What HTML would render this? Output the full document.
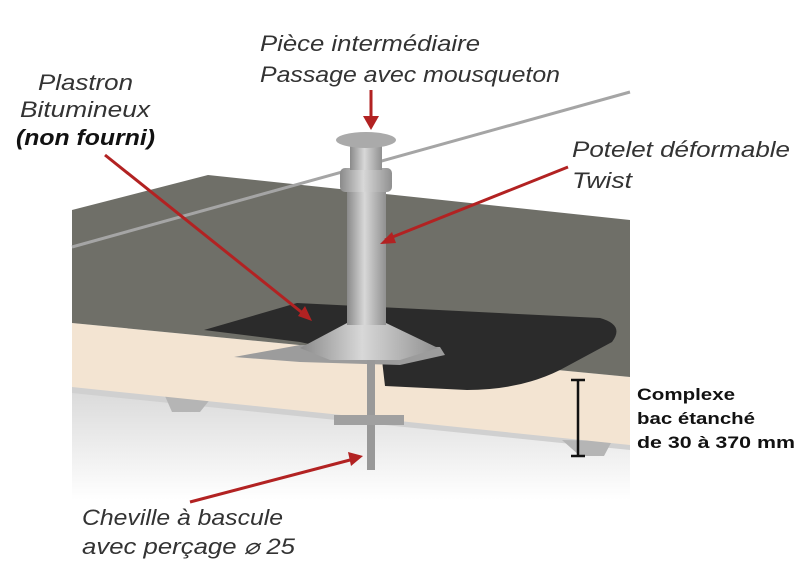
<!DOCTYPE html>
<html><head><meta charset="utf-8"><style>
html,body{margin:0;padding:0;background:#fff;}
svg{display:block;}
.l{font-family:"Liberation Sans",sans-serif;font-style:italic;font-size:22px;fill:#333;}
.b{font-family:"Liberation Sans",sans-serif;font-weight:bold;font-size:17px;fill:#111;}
</style></head><body>
<svg width="812" height="583" viewBox="0 0 812 583">
<defs>
<linearGradient id="deck" x1="0" y1="0" x2="0" y2="1"><stop offset="0" stop-color="#d8d8d8"/><stop offset="1" stop-color="#fff"/></linearGradient>
<linearGradient id="post" x1="0" y1="0" x2="1" y2="0"><stop offset="0" stop-color="#8a8a8a"/><stop offset="0.45" stop-color="#d8d8d8"/><stop offset="1" stop-color="#909090"/></linearGradient>
</defs>
<!-- deck -->
<polygon points="72,385 630,443 630,500 72,500" fill="url(#deck)"/>
<polygon points="72,383 630,441 630,450 72,393" fill="#d0d0d0"/>
<polygon points="165,396 212,397 200,412 172,412" fill="#b5b5b5"/>
<polygon points="562,440 612,441 604,456 580,456" fill="#b5b5b5"/>
<!-- insulation -->
<polygon points="72,323 630,377 630,445 72,387" fill="#f3e4d2"/>
<!-- top surface -->
<polygon points="72,210 208,175 630,220 630,377 72,323" fill="#6f6f68"/>
<!-- cable -->
<line x1="72" y1="247" x2="630" y2="92" stroke="#a5a5a5" stroke-width="3"/>
<!-- bitumen -->
<path d="M204,330 L297,303 L600,318 Q625,325 612,342 L560,370 Q520,390 467,390 L385,386 L382,360 L300,342 Z" fill="#2b2b2b"/>
<!-- flange -->
<polygon points="234,357 300,345 440,347 445,355 400,365 300,362" fill="#9c9c9c"/>
<polygon points="300,348 347,323 386,323 438,348 400,360 330,360" fill="url(#post)"/>
<!-- post -->
<rect x="347" y="190" width="39" height="135" fill="url(#post)"/>
<rect x="340" y="168" width="52" height="24" rx="5" fill="url(#post)"/>
<rect x="350" y="140" width="32" height="30" fill="url(#post)"/>
<ellipse cx="366" cy="140" rx="30" ry="8" fill="#aaa"/>
<!-- anchor -->
<rect x="367" y="360" width="8" height="110" fill="#999"/>
<rect x="334" y="415" width="70" height="10" fill="#a0a0a0"/>
<!-- bracket -->
<g stroke="#111" stroke-width="2.5"><line x1="578" y1="380" x2="578" y2="456"/><line x1="571" y1="380" x2="585" y2="380"/><line x1="571" y1="456" x2="585" y2="456"/></g>
<!-- arrows -->
<g stroke="#b22222" stroke-width="3" fill="#b22222">
<line x1="371" y1="90" x2="371" y2="118"/><polygon points="363,116 379,116 371,130" stroke="none"/>
<line x1="568" y1="167" x2="385" y2="240"/><polygon points="380,244 392,232 396,243" stroke="none"/>
<line x1="105" y1="155" x2="305" y2="315"/><polygon points="312,321 298,316 305,306" stroke="none"/>
<line x1="190" y1="502" x2="350" y2="460"/><polygon points="363,456 348,452 351,466" stroke="none"/>
</g>
<!-- labels -->
<text class="l" x="260" y="51" textLength="220" lengthAdjust="spacingAndGlyphs">Pièce intermédiaire</text>
<text class="l" x="260" y="82" textLength="300" lengthAdjust="spacingAndGlyphs">Passage avec mousqueton</text>
<text class="l" x="38" y="90" textLength="95" lengthAdjust="spacingAndGlyphs">Plastron</text>
<text class="l" x="20" y="117" textLength="130" lengthAdjust="spacingAndGlyphs">Bitumineux</text>
<text class="l" x="16" y="145" textLength="139" lengthAdjust="spacingAndGlyphs" style="font-weight:bold;fill:#111">(non fourni)</text>
<text class="l" x="572" y="157" textLength="218" lengthAdjust="spacingAndGlyphs">Potelet déformable</text>
<text class="l" x="572" y="188" textLength="60" lengthAdjust="spacingAndGlyphs">Twist</text>
<text class="l" x="82" y="525" textLength="201" lengthAdjust="spacingAndGlyphs">Cheville à bascule</text>
<text class="l" x="82" y="554" textLength="213" lengthAdjust="spacingAndGlyphs">avec perçage ⌀ 25</text>
<text class="b" x="637" y="400" textLength="98" lengthAdjust="spacingAndGlyphs">Complexe</text>
<text class="b" x="637" y="424" textLength="118" lengthAdjust="spacingAndGlyphs">bac étanché</text>
<text class="b" x="637" y="448" textLength="158" lengthAdjust="spacingAndGlyphs">de 30 à 370 mm</text>
</svg>
</body></html>
